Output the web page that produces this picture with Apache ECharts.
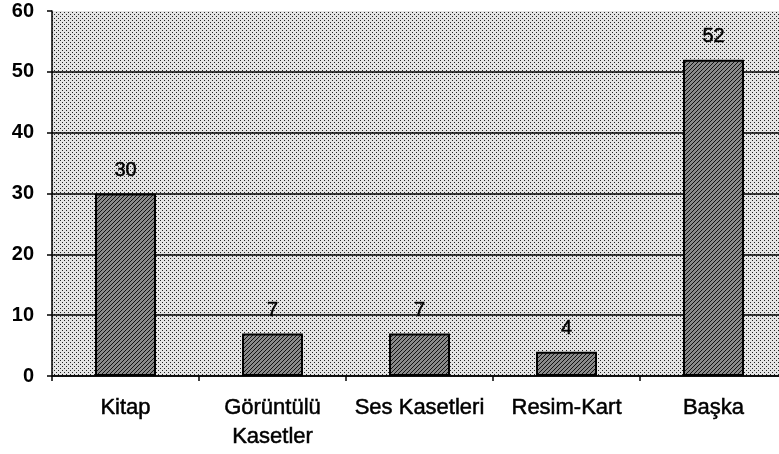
<!DOCTYPE html>
<html>
<head>
<meta charset="utf-8">
<script src="https://cdn.jsdelivr.net/npm/echarts@6/dist/echarts.min.js"></script>
<style>
  html, body { margin: 0; padding: 0; background: #fff; overflow: hidden; }
  /* the plot runs a little past the right edge of the picture */
  #chart { width: 787px; height: 454px; }
</style>
</head>
<body>
<div id="chart"></div>
<script>
// data
const categories = ['Kitap', 'Görüntülü\nKasetler', 'Ses Kasetleri', 'Resim-Kart', 'Başka']
const values = [30, 7, 7, 4, 52]

// dotted background of the plot area
function dotPattern() {
  const c = document.createElement('canvas')
  c.width = 4
  c.height = 4
  const ctx = c.getContext('2d')
  ctx.fillStyle = '#e4e4e4'
  ctx.fillRect(0, 0, 4, 4)
  ctx.fillStyle = '#222'
  ctx.fillRect(0, 0, 1, 1)
  ctx.fillRect(2, 2, 1, 1)
  return c
}

// diagonal hatch inside the bars
function hatchPattern() {
  const c = document.createElement('canvas')
  c.width = 4
  c.height = 4
  const ctx = c.getContext('2d')
  ctx.fillStyle = '#8a8a8a'
  ctx.fillRect(0, 0, 4, 4)
  ctx.fillStyle = '#111'
  for (let i = 0; i < 4; i++) {
    ctx.fillRect(3 - i, i, 1, 1)
  }
  return c
}

const chart = echarts.init(document.getElementById('chart'))
const black = '#000'
const font = 'Liberation Sans, Arial, sans-serif'

const option = {
  animation: false,
  backgroundColor: '#fff',
  grid: {
    left: 52,
    top: 11,
    right: 0,
    bottom: 78,
    containLabel: false,
    show: true,
    borderWidth: 0,
    backgroundColor: { image: dotPattern(), repeat: 'repeat' }
  },
  xAxis: {
    type: 'category',
    data: categories,
    boundaryGap: true,
    axisLine: { lineStyle: { color: black, width: 1.5 } },
    axisTick: { show: true, interval: 0, length: 5, lineStyle: { color: black, width: 1.5 } },
    axisLabel: {
      interval: 0,
      color: black,
      fontFamily: font,
      fontSize: 22,
      margin: 17,
      lineHeight: 29,
      textBorderColor: black,
      textBorderWidth: 0.5
    }
  },
  yAxis: {
    type: 'value',
    min: 0,
    max: 60,
    interval: 10,
    axisLine: { show: true, lineStyle: { color: black, width: 1.5 } },
    axisTick: { show: true, length: 5, lineStyle: { color: black, width: 1.5 } },
    axisLabel: {
      color: black,
      fontFamily: font,
      fontSize: 20,
      fontWeight: 'bold',
      margin: 18
    },
    splitLine: {
      show: true,
      lineStyle: {
        width: 1.5,
        // no line along the top edge at 60
        color: [black, black, black, black, black, black, 'rgba(0,0,0,0)']
      }
    }
  },
  series: [
    {
      type: 'bar',
      data: values,
      barWidth: 61,
      itemStyle: {
        color: { image: hatchPattern(), repeat: 'repeat' },
        borderColor: black,
        borderWidth: 2
      },
      label: {
        show: true,
        position: 'top',
        distance: 13,
        color: black,
        fontFamily: font,
        fontSize: 20,
        textBorderColor: black,
        textBorderWidth: 0.5
      }
    }
  ]
}
chart.setOption(option)
</script>
</body>
</html>
